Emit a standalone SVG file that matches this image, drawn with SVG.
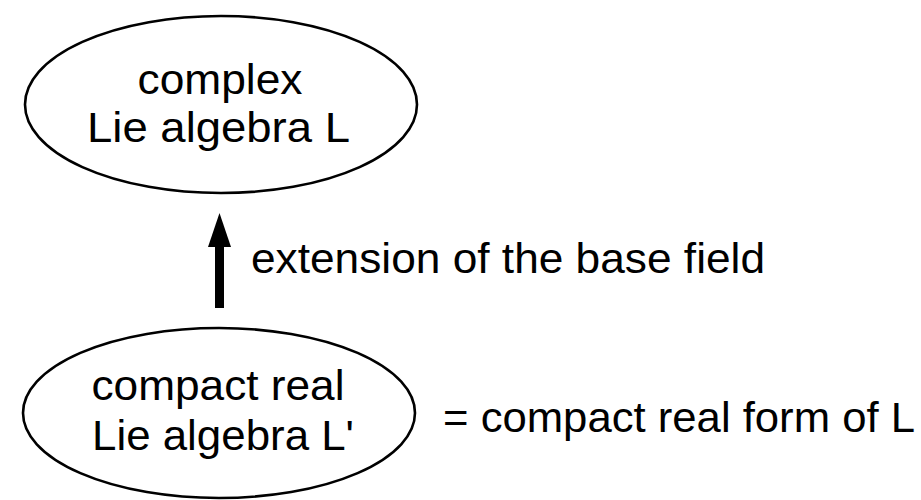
<svg xmlns="http://www.w3.org/2000/svg" width="921" height="500" viewBox="0 0 921 500">
<style>
.node ellipse{fill:#fff;stroke:#000;stroke-width:2.6}
text{font-family:"Liberation Sans",Arial,sans-serif;font-size:42px;fill:#000}
</style>
<defs>
<marker id="ah" markerUnits="userSpaceOnUse" markerWidth="24" markerHeight="34" refX="12" refY="0" orient="auto-start-reverse" viewBox="0 0 24 34">
<path d="M0,34 L12,0 L24,34 Z" fill="#000"/>
</marker>
</defs>
<rect width="921" height="500" fill="#fff"/>
<g id="node-complex" class="node">
<ellipse cx="221" cy="104.5" rx="196" ry="88.5"/>
<text x="137.5" y="94" textLength="165" lengthAdjust="spacingAndGlyphs">complex</text>
<text x="87" y="142" textLength="263" lengthAdjust="spacingAndGlyphs">Lie algebra L</text>
</g>
<g id="node-compact" class="node">
<ellipse cx="219" cy="413" rx="196" ry="85"/>
<text x="91.5" y="400" textLength="253" lengthAdjust="spacingAndGlyphs">compact real</text>
<text x="92" y="450" textLength="262" lengthAdjust="spacingAndGlyphs">Lie algebra L'</text>
</g>
<g id="connectors">
<line x1="219.5" y1="308" x2="219.5" y2="247" stroke="#000" stroke-width="9"/>
<path d="M208,247 L219.5,213 L231,247 Z" fill="#000"/>
<text x="251" y="273" textLength="514" lengthAdjust="spacingAndGlyphs">extension of the base field</text>
</g>
<g id="note">
<text x="443" y="432" textLength="472" lengthAdjust="spacingAndGlyphs">= compact real form of L</text>
</g>
</svg>
